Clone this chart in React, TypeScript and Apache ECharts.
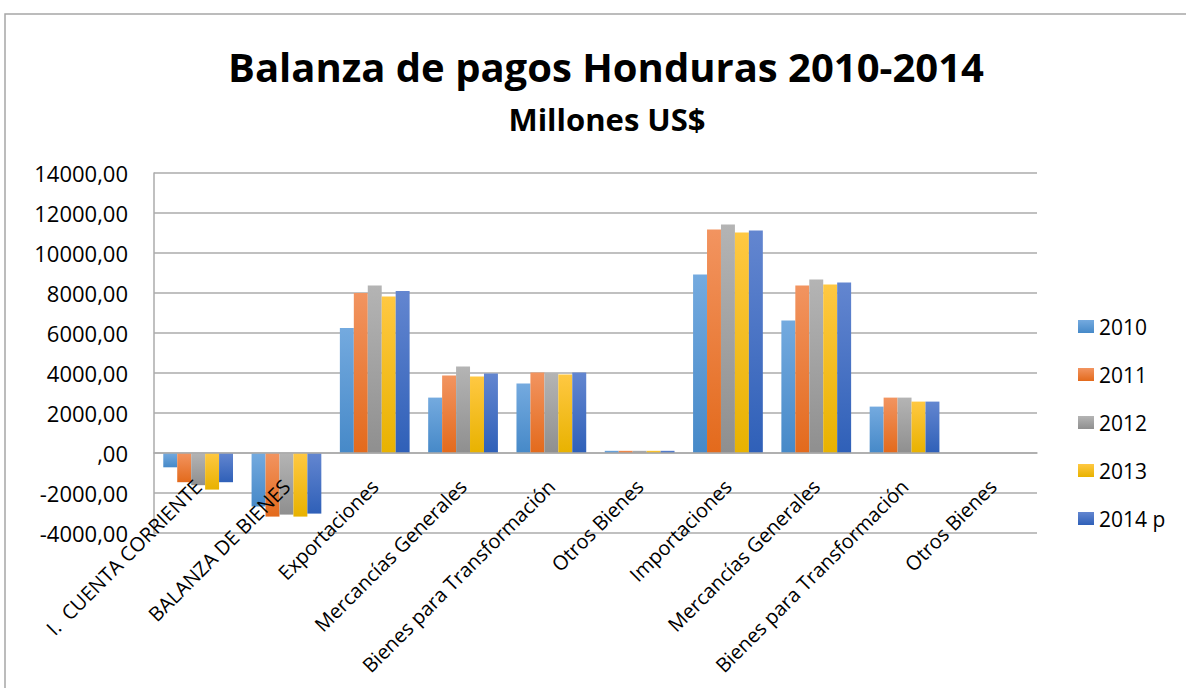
import React, { useEffect, useRef } from "react";
import * as echarts from "echarts";

const categories = [
  "I.  CUENTA CORRIENTE",
  "BALANZA DE BIENES",
  "Exportaciones",
  "Mercancías Generales",
  "Bienes para Transformación",
  "Otros Bienes",
  "Importaciones",
  "Mercancías Generales",
  "Bienes para Transformación",
  "Otros Bienes",
];

const seriesNames = ["2010", "2011", "2012", "2013", "2014 p"];

const values2010 = [-715, -2670, 6250, 2770, 3470, 110, 8920, 6620, 2320, 0];
const values2011 = [-1460, -3180, 8000, 3870, 4020, 110, 11170, 8370, 2770, 0];
const values2012 = [-1610, -3080, 8370, 4320, 4000, 110, 11420, 8670, 2770, 0];
const values2013 = [-1830, -3180, 7820, 3820, 3920, 110, 11020, 8420, 2570, 0];
const values2014 = [-1460, -3030, 8100, 3980, 4020, 110, 11120, 8520, 2570, 0];

const allValues = [values2010, values2011, values2012, values2013, values2014];

const gradients: [string, string][] = [
  ["#74AADF", "#4689C8"],
  ["#F29460", "#E36A1C"],
  ["#B4B4B4", "#8F8F8F"],
  ["#FFC842", "#E8B200"],
  ["#6386D0", "#2F60B8"],
];

const FONT = "'Open Sans', 'Noto Sans', sans-serif";

export default function App() {
  const ref = useRef<HTMLDivElement>(null);
  useEffect(() => {
    if (!ref.current) return;
    const chart = echarts.init(ref.current, undefined, { renderer: "svg" });
    const gridColor = "#ABABAB";
    chart.setOption({
      animation: false,
      backgroundColor: "#ffffff",
      textStyle: { fontFamily: FONT },
      graphic: [
        {
          type: "rect",
          shape: { x: 5, y: 14, width: 1400, height: 900 },
          style: { fill: "none", stroke: "#A6A6A6", lineWidth: 1.5 },
          silent: true,
        },
        {
          type: "text",
          x: 606,
          y: 66,
          style: {
            text: "Balanza de pagos Honduras 2010-2014",
            fontFamily: FONT,
            fontWeight: "bold",
            fontSize: 40,
            fill: "#000000",
            textAlign: "center",
            textVerticalAlign: "middle",
          },
        },
        {
          type: "text",
          x: 607,
          y: 119,
          style: {
            text: "Millones US$",
            fontFamily: FONT,
            fontWeight: "bold",
            fontSize: 31,
            fill: "#000000",
            textAlign: "center",
            textVerticalAlign: "middle",
          },
        },
      ],
      legend: {
        data: seriesNames,
        orient: "vertical",
        left: 1078,
        top: 316,
        itemWidth: 16,
        itemHeight: 13,
        itemGap: 27,
        padding: 0,
        icon: "rect",
        textStyle: { fontSize: 21, color: "#000000", fontFamily: FONT, lineHeight: 21 },
      },
      grid: {
        left: 154,
        right: 149,
        top: 173,
        bottom: 155,
        containLabel: false,
        outerBoundsMode: "none",
      },
      xAxis: {
        type: "category",
        data: categories,
        offset: -80,
        z: 5,
        axisLine: { onZero: false, lineStyle: { color: gridColor, width: 1.5 } },
        axisTick: { show: false },
        axisLabel: {
          interval: 0,
          rotate: 45,
          fontSize: 20,
          color: "#000000",
          fontFamily: FONT,
          margin: 30,
        },
      },
      yAxis: {
        type: "value",
        min: -4000,
        max: 14000,
        interval: 2000,
        axisLine: { show: true, lineStyle: { color: gridColor, width: 1.5 } },
        axisTick: { show: false },
        splitLine: { lineStyle: { color: gridColor, width: 1.5 } },
        axisLabel: {
          fontSize: 22,
          color: "#000000",
          fontFamily: FONT,
          margin: 26,
          formatter: (v: number) => (v === 0 ? ",00" : `${v},00`),
        },
      },
      series: seriesNames.map((name, i) => ({
        name,
        type: "bar",
        data: allValues[i],
        barGap: "0%",
        barCategoryGap: "21%",
        itemStyle: {
          color: new echarts.graphic.LinearGradient(0, 0, 0, 1, [
            { offset: 0, color: gradients[i][0] },
            { offset: 1, color: gradients[i][1] },
          ]),
        },
      })),
    });
    return () => chart.dispose();
  }, []);
  return (
    <div
      ref={ref}
      style={{ position: "fixed", left: 0, top: 0, width: 1186, height: 688 }}
    />
  );
}
